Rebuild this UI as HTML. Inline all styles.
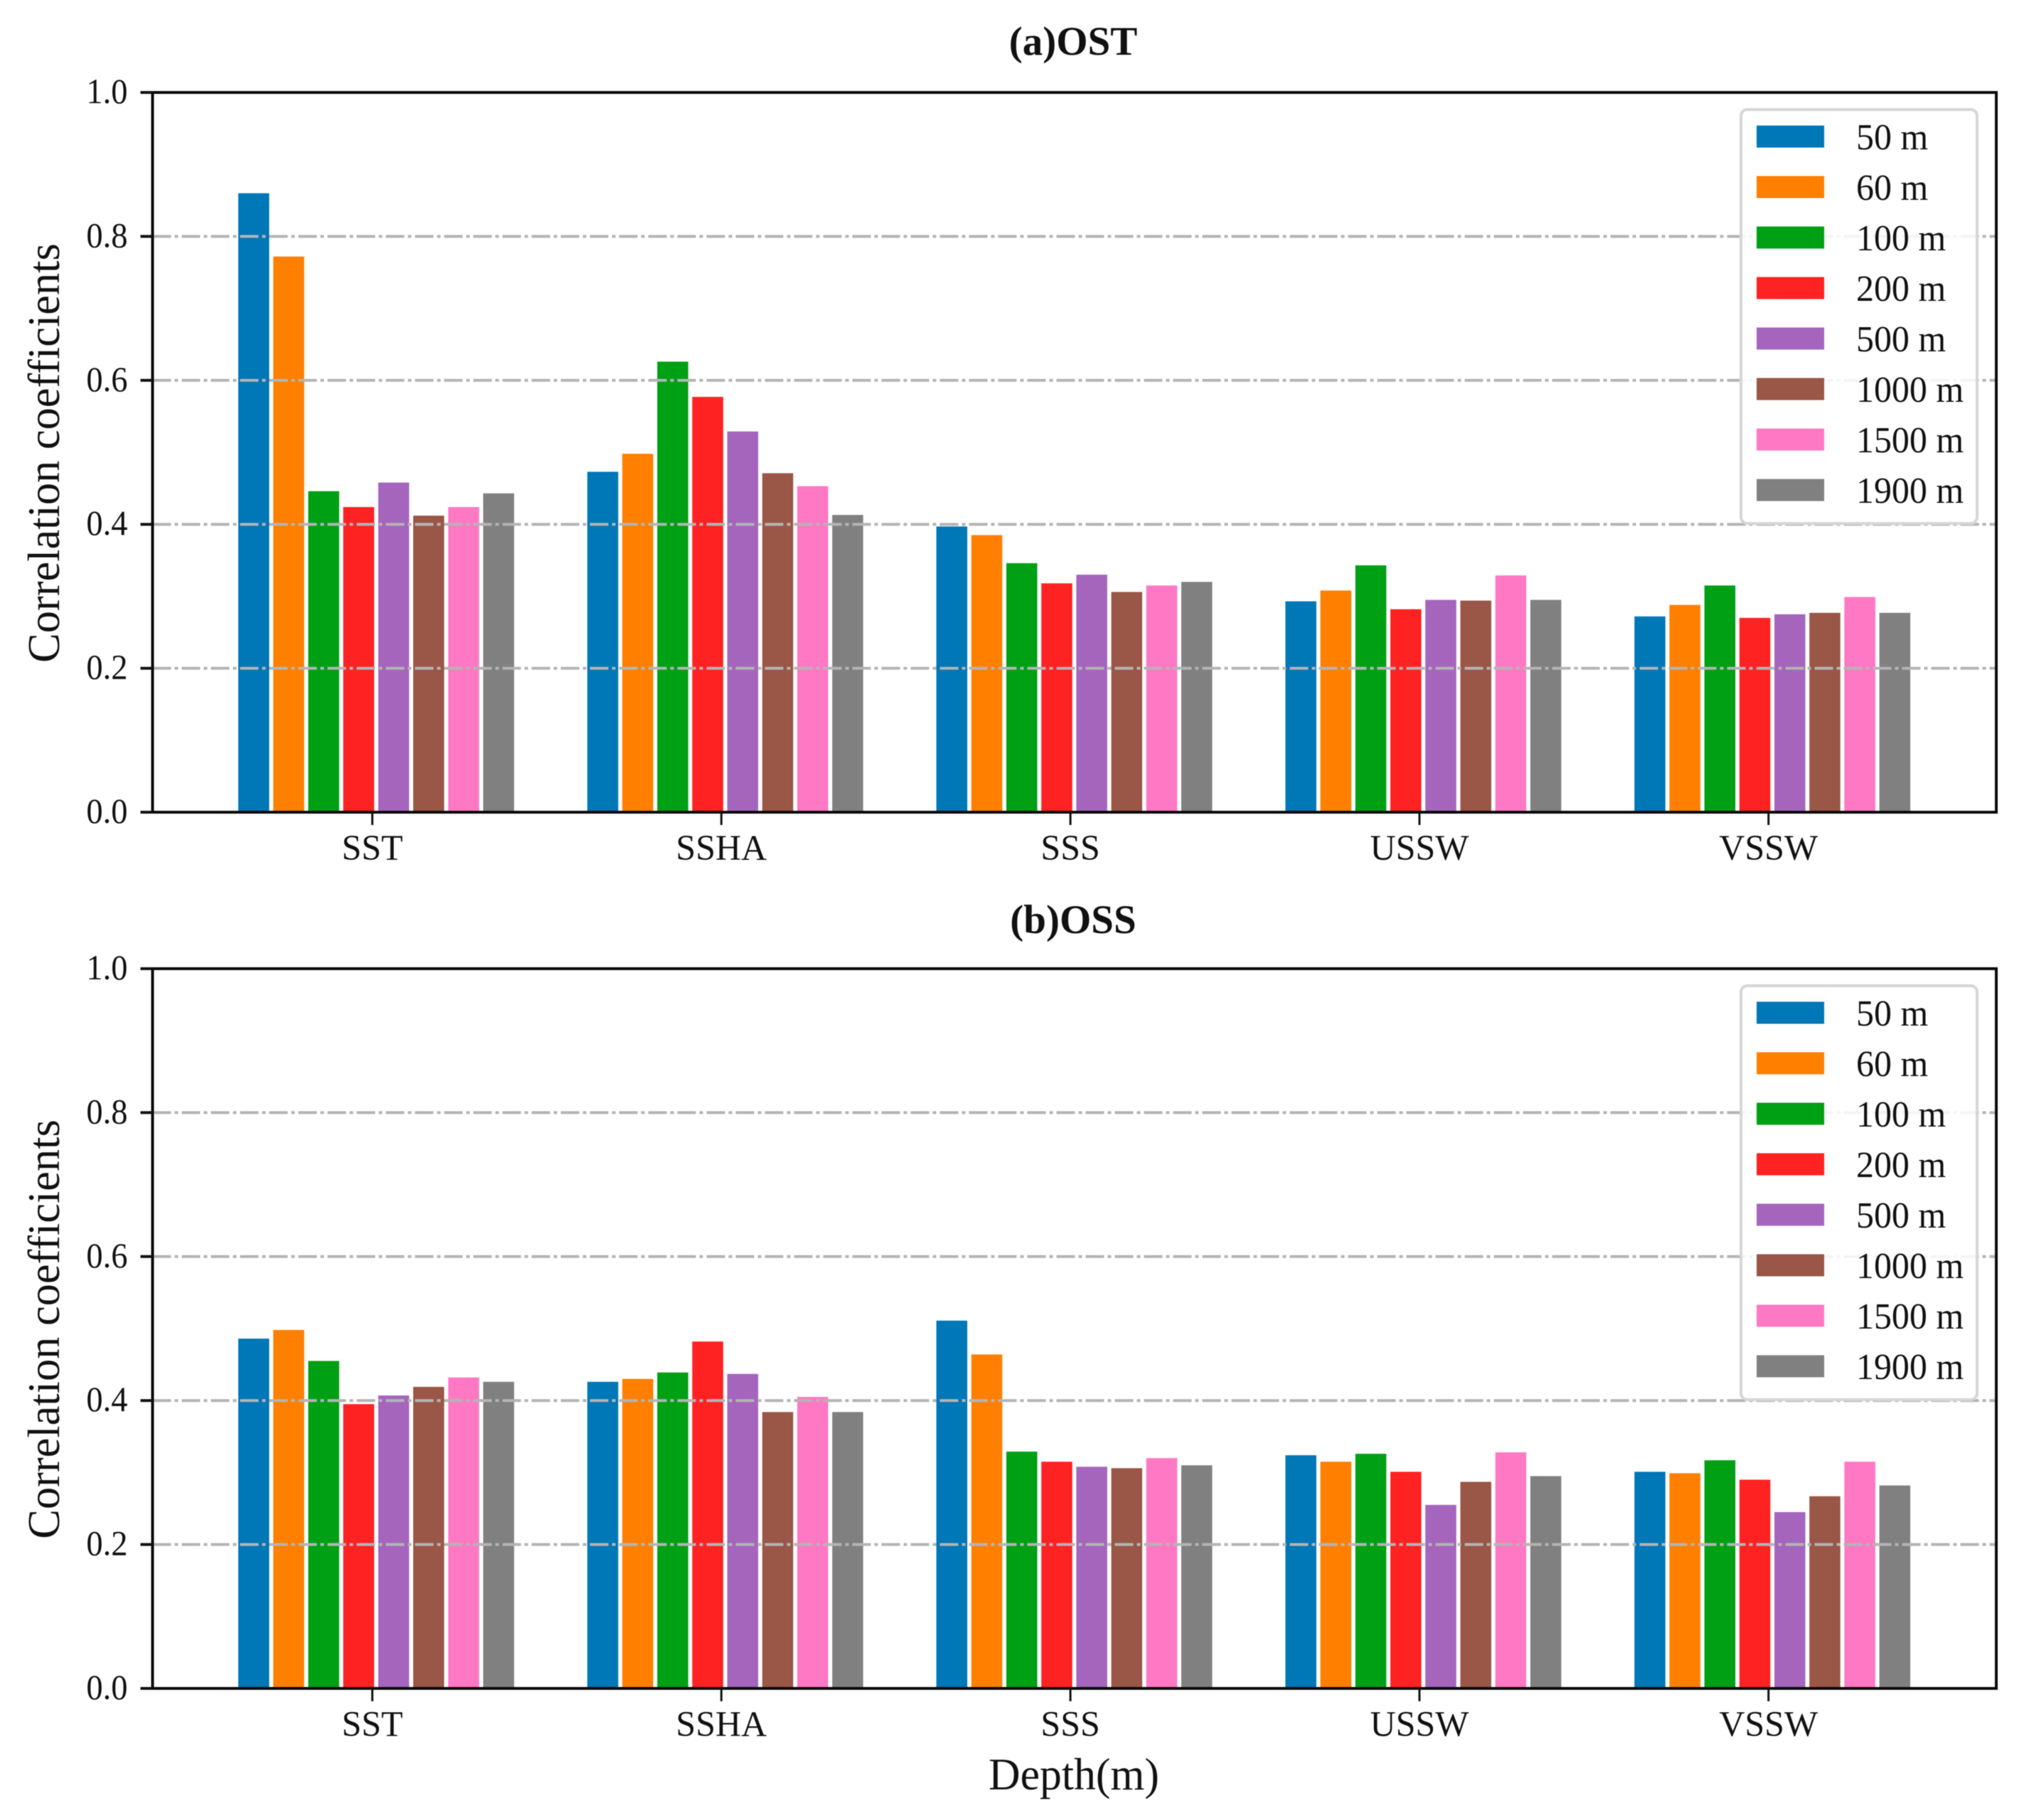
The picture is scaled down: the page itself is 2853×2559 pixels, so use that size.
<!DOCTYPE html>
<html lang="en">
<head>
<meta charset="utf-8">
<title>Correlation coefficients (a)OST and (b)OSS</title>
<style>
html,body{margin:0;padding:0;background:#fff;width:2853px;height:2559px;overflow:hidden}
svg{display:block;filter:blur(0.6px)}
text{font-family:"Liberation Serif",serif;fill:#111}
</style>
</head>
<body>
<svg id="chart" xmlns="http://www.w3.org/2000/svg" width="2853" height="2559" viewBox="0 0 2853 2559">
<rect width="2853" height="2559" fill="#fff"/>
<text x="1509" y="77" font-size="57" font-weight="bold" text-anchor="middle">(a)OST</text>
<text x="1509" y="1312" font-size="57" font-weight="bold" text-anchor="middle">(b)OSS</text>
<text x="0" y="0" font-size="63" text-anchor="middle" transform="translate(1510 2516) scale(0.98 1)">Depth(m)</text>
</svg>
<script>
const categories = ['SST', 'SSHA', 'SSS', 'USSW', 'VSSW'];
const depthLabels = ['50 m', '60 m', '100 m', '200 m', '500 m', '1000 m', '1500 m', '1900 m'];
const yTickValues = [0, 0.2, 0.4, 0.6, 0.8, 1.0];
const gridValues = [0.2, 0.4, 0.6, 0.8];
const seriesColors = ['#0077b6', '#ff7f00', '#00a014', '#ff2222', '#a565bd', '#9a5646', '#ff78c4', '#808080'];

const ostSST = [0.860, 0.772, 0.446, 0.424, 0.458, 0.412, 0.424, 0.443];
const ostSSHA = [0.473, 0.498, 0.626, 0.577, 0.529, 0.471, 0.453, 0.413];
const ostSSS = [0.397, 0.385, 0.346, 0.318, 0.330, 0.306, 0.315, 0.320];
const ostUSSW = [0.293, 0.308, 0.343, 0.282, 0.295, 0.294, 0.329, 0.295];
const ostVSSW = [0.272, 0.288, 0.315, 0.270, 0.275, 0.277, 0.299, 0.277];

const ossSST = [0.486, 0.498, 0.455, 0.395, 0.407, 0.419, 0.432, 0.426];
const ossSSHA = [0.426, 0.430, 0.439, 0.482, 0.437, 0.384, 0.405, 0.384];
const ossSSS = [0.511, 0.464, 0.329, 0.315, 0.308, 0.306, 0.320, 0.310];
const ossUSSW = [0.324, 0.315, 0.326, 0.301, 0.255, 0.287, 0.328, 0.295];
const ossVSSW = [0.301, 0.299, 0.317, 0.290, 0.245, 0.267, 0.315, 0.282];

const ostValues = [ostSST, ostSSHA, ostSSS, ostUSSW, ostVSSW];
const ossValues = [ossSST, ossSSHA, ossSSS, ossUSSW, ossVSSW];

const NS = 'http://www.w3.org/2000/svg';
const svg = document.getElementById('chart');
const plotLeft = 214.5, plotRight = 2807, plotHeight = 1012;
const firstBarLeft = 335, groupStep = 490.8, barStep = 49.2, barWidth = 43.5;
const firstTickX = 523.5;

function make(tag, attrs, text) {
  const el = document.createElementNS(NS, tag);
  for (const k in attrs) el.setAttribute(k, attrs[k]);
  if (text !== undefined) el.textContent = text;
  svg.appendChild(el);
  return el;
}
function barX(groupIndex, seriesIndex) {
  return firstBarLeft + groupIndex * groupStep + seriesIndex * barStep;
}
function tickX(groupIndex) {
  return firstTickX + groupIndex * groupStep;
}
function drawPanel(prefix, plotTop, values) {
  const plotBottom = plotTop + plotHeight;
  const yScale = v => plotBottom - v * plotHeight;

  values.forEach((group, i) => {
    group.forEach((v, j) => {
      const bar = make('rect', {x: barX(i, j), y: yScale(v), width: barWidth, height: plotBottom - yScale(v), fill: seriesColors[j]});
      
      
    });
  });

  gridValues.forEach(v => {
    const grid = make('line', {x1: plotLeft, x2: plotRight, y1: yScale(v), y2: yScale(v), stroke: '#b4b4b4', 'stroke-width': 4, 'stroke-dasharray': '26 5 5 5'});
    
    
  });

  const frame = make('rect', {x: plotLeft, y: plotTop, width: plotRight - plotLeft, height: plotHeight, fill: 'none', stroke: '#0a0a0a', 'stroke-width': 4});
  
  

  yTickValues.forEach(v => {
    const tick = make('line', {x1: plotLeft - 17, x2: plotLeft, y1: yScale(v), y2: yScale(v), stroke: '#111', 'stroke-width': 4});
    
    
    const label = make('text', {x: 0, y: 0, 'font-size': 50, 'text-anchor': 'end', transform: 'translate(' + (plotLeft - 35) + ' ' + (yScale(v) + 15) + ') scale(0.93 1)'}, v.toFixed(1));
    
    
  });

  categories.forEach((c, i) => {
    const tick = make('line', {x1: tickX(i), x2: tickX(i), y1: plotBottom, y2: plotBottom + 18, stroke: '#111', 'stroke-width': 3});
    
    
    const label = make('text', {x: 0, y: 0, 'font-size': 51, 'text-anchor': 'middle', transform: 'translate(' + tickX(i) + ' ' + (plotBottom + 67) + ') scale(0.98 1)'}, c);
    
    
  });

  const yTitle = make('text', {x: 0, y: 0, 'font-size': 64, 'text-anchor': 'middle', transform: 'translate(83 ' + (plotTop + 507) + ') rotate(-90) scale(0.975 1)'}, 'Correlation coefficients');
  
  

  const legendBox = make('rect', {x: 2448, y: plotTop + 24, width: 332, height: 582, rx: 9, ry: 9, fill: '#fff', 'fill-opacity': 0.85, stroke: '#d6d6d6', 'stroke-width': 4});
  
  

  depthLabels.forEach((d, j) => {
    const rowY = plotTop + 62 + j * 71;
    const swatch = make('rect', {x: 2470, y: rowY - 15.5, width: 95, height: 31, fill: seriesColors[j]});
    
    
    const label = make('text', {x: 0, y: 0, 'font-size': 52, transform: 'translate(2610 ' + (rowY + 18) + ') scale(0.96 1)'}, d);
    
    
  });
}
drawPanel('ost', 130, ostValues);
drawPanel('oss', 1362, ossValues);
</script>
</body>
</html>
